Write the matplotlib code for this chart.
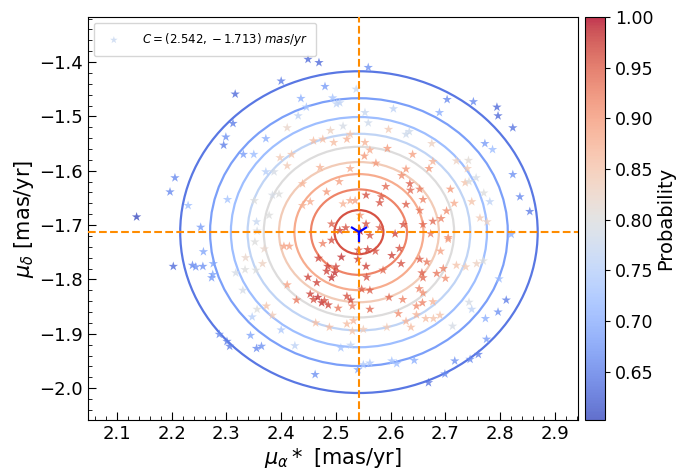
import numpy as np
import matplotlib
matplotlib.use("Agg")
import matplotlib.pyplot as plt
from matplotlib.patches import Ellipse
from matplotlib.ticker import AutoMinorLocator

# cluster centre (mas/yr)
c_ra = 2.542
c_dec = -1.713

# member proper motions and membership probability
pm_ra = [2.537, 2.136, 2.197, 2.206, 2.230, 2.253, 2.316, 2.312, 2.299, 2.295,
         2.331, 2.350, 2.400, 2.449, 2.469, 2.559, 2.480, 2.436, 2.446, 2.494,
         2.501, 2.507, 2.431, 2.372, 2.411, 2.490, 2.513, 2.553, 2.559, 2.605,
         2.596, 2.628, 2.634, 2.689, 2.703, 2.751, 2.794, 2.796, 2.823, 2.772,
         2.786, 2.823, 2.836, 2.854, 2.820, 2.459, 2.476, 2.496, 2.520, 2.526,
         2.553, 2.562, 2.594, 2.640, 2.552, 2.573, 2.677, 2.670, 2.720, 2.742,
         2.740, 2.756, 2.628, 2.620, 2.635, 2.636, 2.653, 2.591, 2.555, 2.583,
         2.580, 2.628, 2.659, 2.653, 2.709, 2.716, 2.702, 2.692, 2.677, 2.659,
         2.623, 2.608, 2.673, 2.705, 2.770, 2.763, 2.776, 2.398, 2.419, 2.411,
         2.372, 2.471, 2.526, 2.439, 2.506, 2.483, 2.384, 2.396, 2.351, 2.302,
         2.453, 2.439, 2.513, 2.526, 2.535, 2.544, 2.378, 2.355, 2.492, 2.518,
         2.555, 2.203, 2.238, 2.244, 2.257, 2.258, 2.276, 2.275, 2.273, 2.287,
         2.301, 2.306, 2.344, 2.355, 2.364, 2.462, 2.509, 2.527, 2.425, 2.400,
         2.347, 2.335, 2.334, 2.317, 2.354, 2.366, 2.369, 2.352, 2.330, 2.373,
         2.356, 2.384, 2.411, 2.405, 2.415, 2.428, 2.449, 2.465, 2.468, 2.453,
         2.459, 2.467, 2.474, 2.479, 2.486, 2.485, 2.492, 2.498, 2.500, 2.483,
         2.510, 2.476, 2.520, 2.527, 2.504, 2.530, 2.532, 2.520, 2.530, 2.463,
         2.488, 2.540, 2.555, 2.556, 2.547, 2.562, 2.562, 2.550, 2.572, 2.586,
         2.597, 2.593, 2.602, 2.616, 2.619, 2.614, 2.622, 2.628, 2.637, 2.653,
         2.666, 2.657, 2.659, 2.652, 2.659, 2.658, 2.647, 2.664, 2.678, 2.677,
         2.690, 2.684, 2.700, 2.691, 2.705, 2.720, 2.737, 2.757, 2.769, 2.713,
         2.743, 2.748, 2.773, 2.775, 2.796, 2.798, 2.811, 2.760, 2.745, 2.717,
         2.699, 2.669, 2.643, 2.611, 2.602, 2.562, 2.550, 2.540, 2.580, 2.562,
         2.507, 2.492, 2.558, 2.541, 2.544, 2.675, 2.736, 2.743, 2.781, 2.748,
         2.696, 2.647, 2.356, 2.387]
pm_dec = [-1.450, -1.685, -1.639, -1.613, -1.664, -1.704, -1.459, -1.513, -1.538, -1.553,
          -1.570, -1.570, -1.435, -1.395, -1.401, -1.410, -1.445, -1.467, -1.483, -1.466,
          -1.477, -1.475, -1.499, -1.541, -1.521, -1.526, -1.518, -1.493, -1.512, -1.486,
          -1.524, -1.533, -1.528, -1.493, -1.469, -1.473, -1.483, -1.499, -1.521, -1.550,
          -1.561, -1.607, -1.648, -1.675, -1.717, -1.545, -1.542, -1.548, -1.542, -1.533,
          -1.548, -1.562, -1.559, -1.570, -1.573, -1.586, -1.583, -1.596, -1.582, -1.581,
          -1.596, -1.613, -1.597, -1.609, -1.624, -1.636, -1.634, -1.629, -1.645, -1.648,
          -1.659, -1.662, -1.653, -1.673, -1.634, -1.660, -1.674, -1.688, -1.693, -1.699,
          -1.699, -1.716, -1.716, -1.723, -1.641, -1.687, -1.694, -1.576, -1.570, -1.591,
          -1.602, -1.594, -1.596, -1.624, -1.620, -1.639, -1.645, -1.643, -1.655, -1.653,
          -1.657, -1.664, -1.661, -1.655, -1.655, -1.682, -1.682, -1.694, -1.698, -1.705,
          -1.698, -1.776, -1.774, -1.777, -1.776, -1.749, -1.771, -1.791, -1.797, -1.901,
          -1.914, -1.923, -1.903, -1.927, -1.923, -1.975, -1.926, -1.921, -1.922, -1.893,
          -1.869, -1.760, -1.782, -1.788, -1.783, -1.771, -1.744, -1.731, -1.820, -1.849,
          -1.855, -1.866, -1.810, -1.739, -1.739, -1.838, -1.796, -1.806, -1.761, -1.827,
          -1.837, -1.833, -1.843, -1.839, -1.847, -1.776, -1.797, -1.788, -1.777, -1.785,
          -1.759, -1.734, -1.831, -1.838, -1.853, -1.849, -1.876, -1.882, -1.895, -1.880,
          -1.888, -1.763, -1.776, -1.796, -1.818, -1.820, -1.855, -1.892, -1.748, -1.783,
          -1.833, -1.888, -1.756, -1.743, -1.771, -1.863, -1.837, -1.877, -1.888, -1.763,
          -1.768, -1.788, -1.797, -1.817, -1.825, -1.843, -1.865, -1.872, -1.872, -1.841,
          -1.866, -1.789, -1.798, -1.748, -1.726, -1.774, -1.777, -1.771, -1.766, -1.886,
          -1.842, -1.855, -1.872, -1.910, -1.860, -1.799, -1.838, -1.938, -1.947, -1.950,
          -1.974, -1.990, -1.949, -1.955, -1.950, -1.954, -1.957, -1.966, -1.705, -1.719,
          -1.710, -1.728, -1.745, -1.746, -1.711, -1.550, -1.622, -1.620, -1.657, -1.657,
          -1.780, -1.849, -1.711, -1.602]
prob = [0.77, 0.602, 0.66, 0.66, 0.72, 0.68, 0.63, 0.65, 0.67, 0.65,
        0.68, 0.72, 0.65, 0.63, 0.63, 0.67, 0.68, 0.70, 0.73, 0.73,
        0.76, 0.76, 0.76, 0.70, 0.82, 0.83, 0.79, 0.77, 0.78, 0.76,
        0.84, 0.78, 0.78, 0.70, 0.66, 0.66, 0.63, 0.63, 0.64, 0.68,
        0.72, 0.67, 0.66, 0.65, 0.70, 0.86, 0.86, 0.86, 0.87, 0.85,
        0.87, 0.88, 0.90, 0.89, 0.90, 0.90, 0.87, 0.90, 0.83, 0.81,
        0.84, 0.79, 0.90, 0.91, 0.95, 0.94, 0.93, 0.94, 0.96, 0.95,
        0.96, 0.95, 0.92, 0.93, 0.90, 0.88, 0.91, 0.92, 0.94, 0.94,
        0.96, 0.97, 0.93, 0.91, 0.80, 0.84, 0.83, 0.84, 0.85, 0.84,
        0.75, 0.87, 0.88, 0.87, 0.89, 0.90, 0.79, 0.80, 0.80, 0.73,
        0.88, 0.87, 0.87, 0.88, 0.89, 0.90, 0.80, 0.77, 0.95, 0.96,
        0.96, 0.63, 0.66, 0.67, 0.67, 0.69, 0.69, 0.69, 0.68, 0.66,
        0.65, 0.65, 0.69, 0.66, 0.67, 0.67, 0.73, 0.76, 0.76, 0.74,
        0.75, 0.82, 0.80, 0.79, 0.80, 0.83, 0.82, 0.80, 0.79, 0.85,
        0.80, 0.84, 0.89, 0.89, 0.89, 0.93, 0.97, 0.97, 0.97, 0.97,
        0.96, 0.98, 0.98, 0.96, 0.97, 0.97, 0.98, 0.98, 0.97, 0.97,
        0.98, 0.92, 0.96, 0.97, 0.93, 0.92, 0.87, 0.86, 0.85, 0.86,
        0.86, 0.97, 0.97, 0.96, 0.95, 0.95, 0.94, 0.84, 0.96, 0.94,
        0.94, 0.84, 0.97, 0.96, 0.96, 0.91, 0.92, 0.87, 0.86, 0.95,
        0.93, 0.95, 0.94, 0.92, 0.91, 0.92, 0.87, 0.86, 0.85, 0.87,
        0.85, 0.93, 0.91, 0.89, 0.90, 0.85, 0.84, 0.83, 0.80, 0.79,
        0.79, 0.76, 0.70, 0.68, 0.67, 0.72, 0.65, 0.65, 0.66, 0.67,
        0.66, 0.64, 0.70, 0.72, 0.73, 0.74, 0.74, 0.69, 0.95, 0.96,
        0.97, 0.96, 0.97, 0.96, 1.00, 0.83, 0.85, 0.80, 0.76, 0.85,
        0.92, 0.91, 0.79, 0.79]

# density contour levels and their ellipse semi-axes (mas/yr)
levels = [0.1, 0.2, 0.3, 0.4, 0.5, 0.6, 0.7, 0.8, 0.9]
semi_ra = [0.3264, 0.2718, 0.2338, 0.2033, 0.1738, 0.1460, 0.1178, 0.0877, 0.0447]
semi_dec = [0.2960, 0.2464, 0.2118, 0.1810, 0.1570, 0.1290, 0.1068, 0.0786, 0.0405]

cmap = plt.get_cmap('coolwarm')

fig = plt.figure(figsize=(6.76, 4.70), dpi=100)
ax = fig.add_axes([0.130, 0.106, 0.725, 0.858])
cax = fig.add_axes([0.866, 0.106, 0.029, 0.858])

for lev, a, b in zip(levels, semi_ra, semi_dec):
    ax.add_patch(Ellipse((c_ra, c_dec), 2 * a, 2 * b, fill=False,
                         edgecolor=cmap(lev), linewidth=1.6, zorder=2))

sc = ax.scatter(pm_ra, pm_dec, c=prob, cmap=cmap, marker='*', s=50,
                alpha=0.8, linewidths=0, zorder=3,
                label=r'$C = (%.3f, %.3f)\ mas/yr$' % (c_ra, c_dec))

ax.axvline(c_ra, color='darkorange', linestyle='--', linewidth=1.5, zorder=4)
ax.axhline(c_dec, color='darkorange', linestyle='--', linewidth=1.5, zorder=4)
ax.plot(c_ra, c_dec, marker='1', color='blue', markersize=14,
        markeredgewidth=1.6, zorder=5)

ax.set_xlim(2.047, 2.942)
ax.set_ylim(-2.059, -1.317)
ax.xaxis.set_minor_locator(AutoMinorLocator(5))
ax.yaxis.set_minor_locator(AutoMinorLocator(5))
ax.tick_params(which='both', direction='in', labelsize=13)
ax.tick_params(which='major', length=6)
ax.tick_params(which='minor', length=3)
ax.set_xlabel(r'$\mu_{\alpha}*$ [mas/yr]', fontsize=15, labelpad=2)
ax.set_ylabel(r'$\mu_{\delta}$ [mas/yr]', fontsize=15, labelpad=2)
ax.legend(loc='upper left', fontsize=8.5, markerscale=0.8,
          handletextpad=1.4, borderpad=0.7)

cb = fig.colorbar(sc, cax=cax)
cb.set_label('Probability', fontsize=14, labelpad=2)
cb.ax.tick_params(labelsize=12.5)

fig.savefig('out.png', dpi=100)
